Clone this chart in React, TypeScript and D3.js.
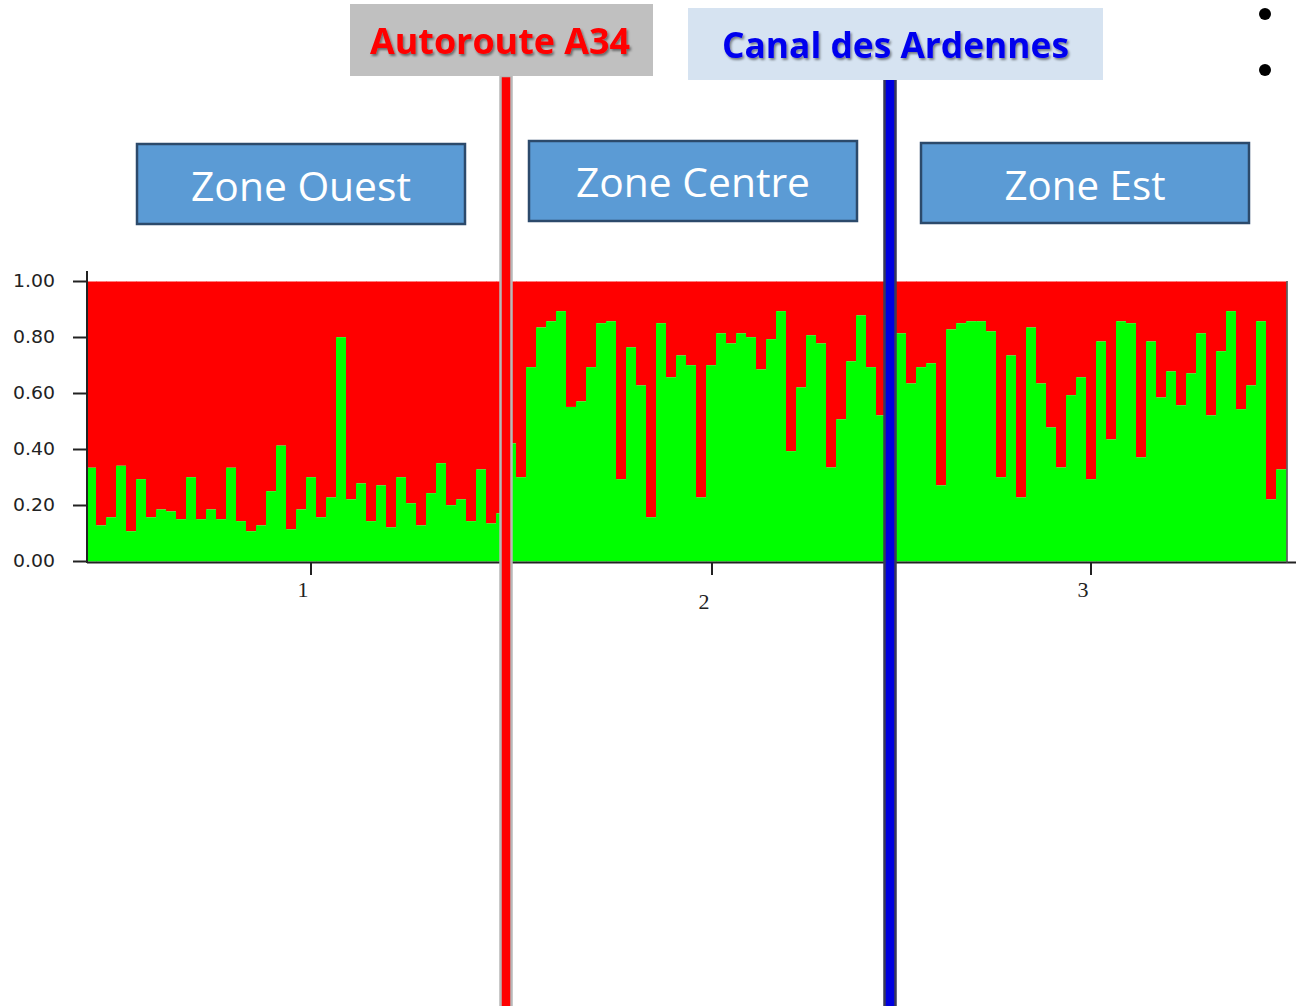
import React, { useEffect } from "react";
import * as d3 from "d3";

// Green (ancestry cluster 1) proportion per individual, by population
const pop1Green = [0.335,0.129,0.158,0.342,0.108,0.294,0.158,0.186,0.179,0.151,0.301,0.151,0.186,0.151,0.335,0.144,0.108,0.129,0.251,0.414,0.115,0.186,0.301,0.158,0.229,0.801,0.222,0.279,0.144,0.272,0.122,0.301,0.208,0.129,0.244,0.351,0.201,0.222,0.144,0.329,0.136,0.172];
const pop2Green = [0.422,0.301,0.694,0.836,0.858,0.894,0.552,0.572,0.694,0.851,0.858,0.294,0.765,0.629,0.158,0.851,0.658,0.736,0.701,0.229,0.701,0.815,0.779,0.815,0.801,0.686,0.794,0.894,0.394,0.622,0.808,0.779,0.336,0.508,0.715,0.879,0.694,0.522];
const pop3Green = [0.55,0.815,0.636,0.694,0.708,0.272,0.829,0.851,0.858,0.858,0.822,0.301,0.736,0.229,0.836,0.636,0.479,0.336,0.594,0.658,0.294,0.786,0.436,0.858,0.851,0.372,0.786,0.586,0.679,0.558,0.672,0.815,0.522,0.751,0.894,0.544,0.629,0.858,0.222,0.329];

const yTicks = [0, 0.2, 0.4, 0.6, 0.8, 1.0];
// population tick labels, positioned in individual-index units
const popLabels = ["1", "2", "3"];
const popTickAt = [22.5, 62.6, 100.5];
const popLabelDy = [0, 12, 0];

const zones = ["Zone Ouest", "Zone Centre", "Zone Est"];
const barriers = ["Autoroute A34", "Canal des Ardennes"];

const W = 1296, H = 1006;

export default function App() {
  useEffect(() => {
    document.body.style.margin = "0";
  }, []);

  const green = [...pop1Green, ...pop2Green, ...pop3Green];
  const n = green.length;
  const idx = d3.range(n);
  const x = d3.scaleBand<number>().domain(idx).range([86, 1286]).padding(0);
  const xi = d3.scaleLinear().domain([0, n]).range([86, 1286]);
  const y = d3.scaleLinear().domain([0, 1]).range([561.5, 281.5]);
  const fmt = d3.format(".2f");

  const zoneBoxes = [
    { x: 137, y: 144, w: 328, h: 80, tx: 301, ty: 201, tl: 220 },
    { x: 529, y: 141, w: 328, h: 80, tx: 693, ty: 197, tl: 234 },
    { x: 921, y: 143, w: 328, h: 80, tx: 1085, ty: 200, tl: 161 },
  ];

  return (
    <svg width={W} height={H} style={{ display: "block" }} xmlns="http://www.w3.org/2000/svg">
      <defs>
        <clipPath id="plotClip">
          <rect x={88} y={270} width={1199} height={300} />
        </clipPath>
        <filter id="shadow" x="-10%" y="-20%" width="120%" height="150%">
          <feDropShadow dx="1.5" dy="2" stdDeviation="1.2" floodColor="#000" floodOpacity="0.45" />
        </filter>
      </defs>
      <rect x={0} y={0} width={W} height={H} fill="#fff" />

      {/* bars */}
      <g clipPath="url(#plotClip)">
        {idx.map((i) => (
          <g key={i}>
            <rect x={x(i)!} y={y(1)} width={x.bandwidth() + 0.5} height={y(green[i]) - y(1)} fill="#ff0000" />
            <rect x={x(i)!} y={y(green[i])} width={x.bandwidth() + 0.5} height={y(0) - y(green[i])} fill="#00ff00" />
          </g>
        ))}
      </g>

      {/* axes */}
      <line x1={87} x2={87} y1={271} y2={563} stroke="#222" strokeWidth={2} />
      <line x1={87} x2={1296} y1={562.5} y2={562.5} stroke="#222" strokeWidth={2} />
      <line x1={1287} x2={1287} y1={281} y2={563} stroke="#444" strokeWidth={1.5} />
      {yTicks.map((t) => (
        <g key={t}>
          <line x1={73} x2={87} y1={y(t)} y2={y(t)} stroke="#222" strokeWidth={2} />
          <text x={55} y={y(t)} dy="0.35em" textAnchor="end" fontFamily="DejaVu Sans" fontSize={17}
            textLength={42} lengthAdjust="spacingAndGlyphs" fill="#222">{fmt(t)}</text>
        </g>
      ))}
      {popLabels.map((l, k) => (
        <g key={l}>
          <line x1={xi(popTickAt[k])} x2={xi(popTickAt[k])} y1={562} y2={575} stroke="#222" strokeWidth={2} />
          <text x={xi(popTickAt[k]) - 8} y={597 + popLabelDy[k]} textAnchor="middle" fontFamily="Liberation Serif"
            fontSize={22} fill="#222">{l}</text>
        </g>
      ))}

      {/* barrier lines */}
      <rect x={500.5} y={76} width={11} height={940} fill="#ff0000" stroke="#b8b8b8" strokeWidth={2.5} />
      <rect x={884.5} y={74} width={11} height={940} fill="#0000e0" stroke="#3a3a5a" strokeWidth={2.5} />

      {/* barrier labels */}
      <rect x={350} y={4} width={303} height={72} fill="#c0c0c0" />
      <text x={500} y={54} textAnchor="middle" fontFamily="Open Sans" fontWeight="bold" fontSize={36}
        textLength={260} lengthAdjust="spacingAndGlyphs" fill="#ff0000" filter="url(#shadow)">{barriers[0]}</text>
      <rect x={688} y={8} width={415} height={72} fill="#d6e3f1" />
      <text x={895.5} y={58} textAnchor="middle" fontFamily="Open Sans" fontWeight="bold" fontSize={36}
        textLength={347} lengthAdjust="spacingAndGlyphs" fill="#0000ee" filter="url(#shadow)">{barriers[1]}</text>

      {/* zone boxes */}
      {zones.map((z, k) => {
        const b = zoneBoxes[k];
        return (
          <g key={z}>
            <rect x={b.x} y={b.y} width={b.w} height={b.h} fill="#5b9bd5" stroke="#2c4a6b" strokeWidth={2.5} />
            <text x={b.tx} y={b.ty} textAnchor="middle" fontFamily="Open Sans" fontSize={41}
              textLength={b.tl} lengthAdjust="spacingAndGlyphs" fill="#fff">{z}</text>
          </g>
        );
      })}

      {/* bullets */}
      <circle cx={1265} cy={14} r={6} fill="#000" />
      <circle cx={1265} cy={70} r={6} fill="#000" />
    </svg>
  );
}
